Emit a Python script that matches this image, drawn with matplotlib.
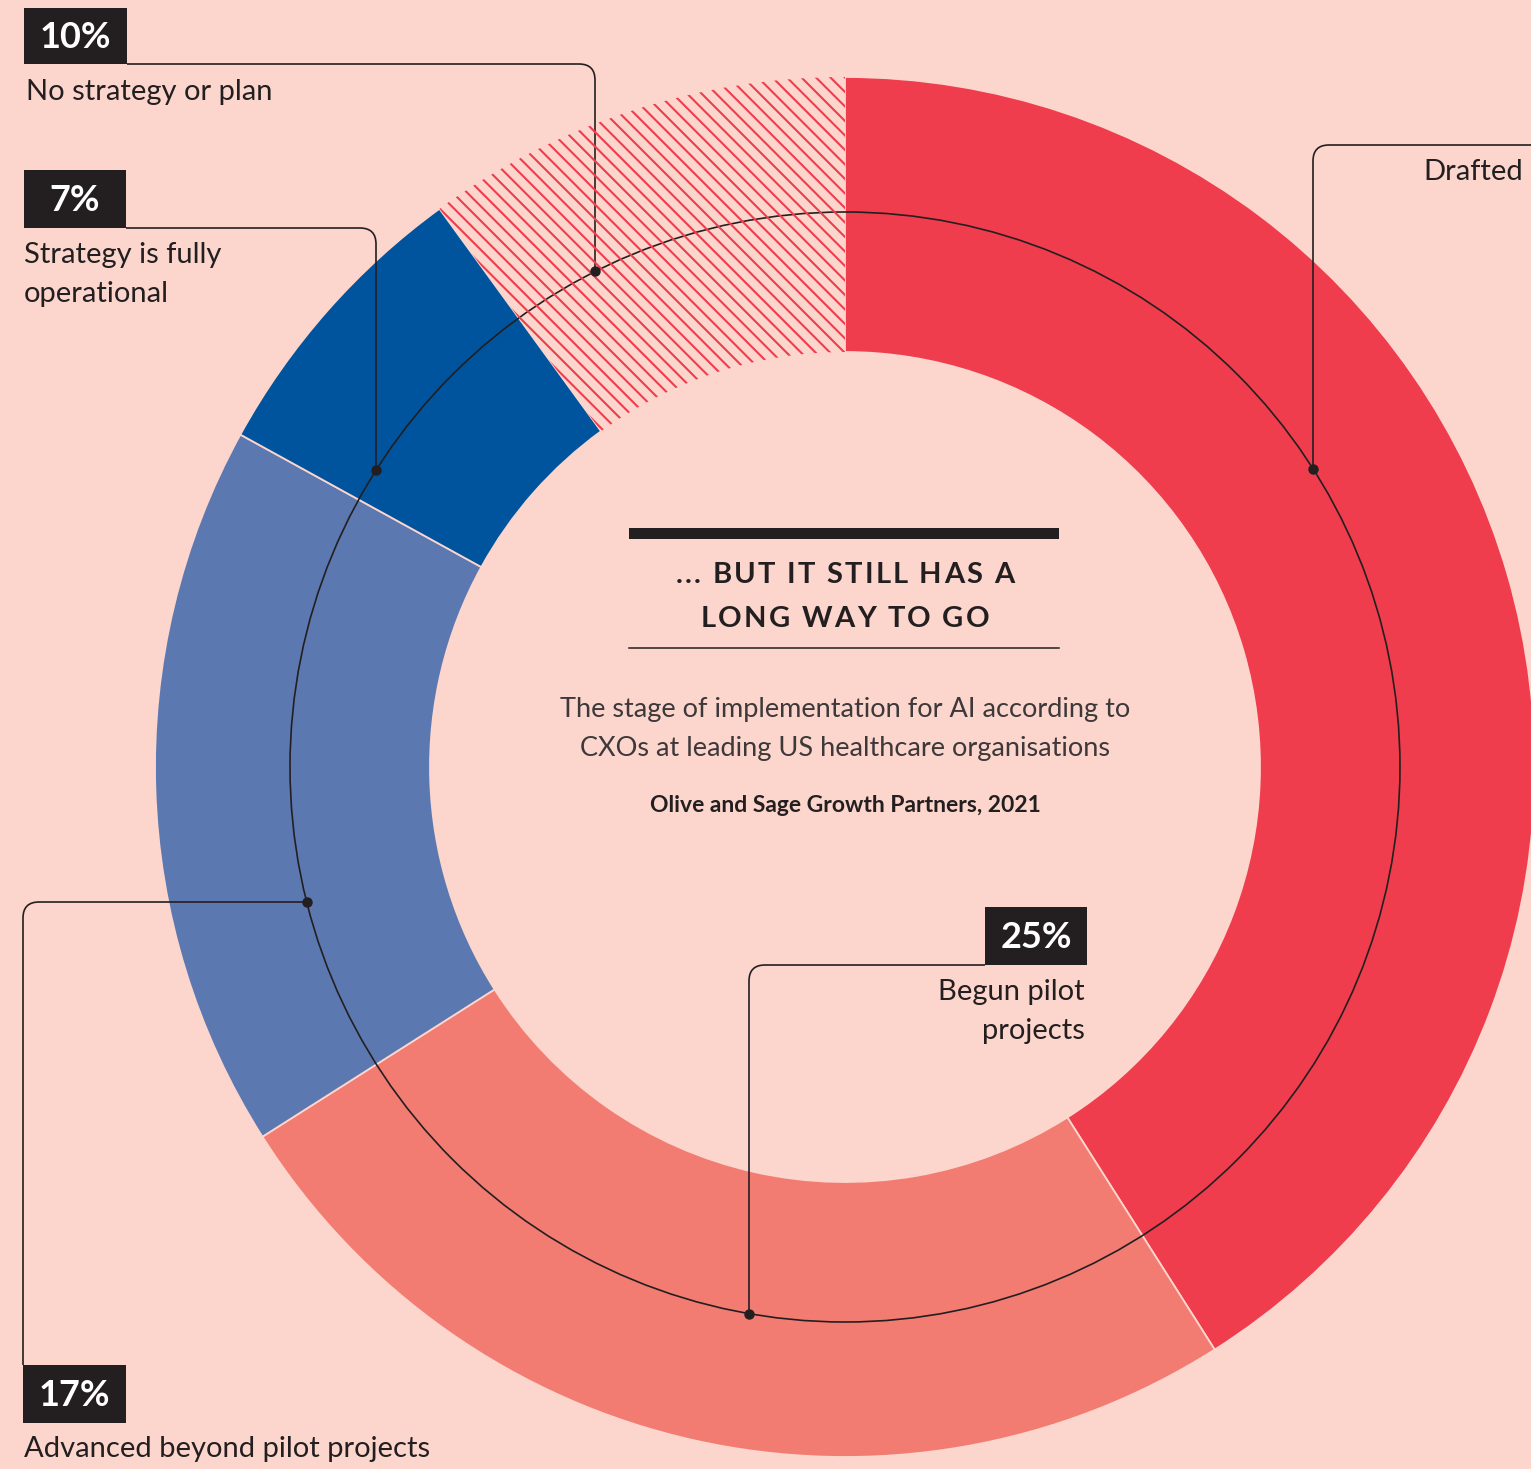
import numpy as np
import matplotlib.pyplot as plt
from matplotlib.patches import Rectangle, Circle, PathPatch
from matplotlib.path import Path
from matplotlib.collections import LineCollection

# data
stages = ["Drafted", "Begun pilot\nprojects", "Advanced beyond pilot projects",
          "Strategy is fully\noperational", "No strategy or plan"]
shares = [41, 25, 17, 7, 10]
colors = ["#EF3D4D", "#F37C72", "#5C78B1", "#00549E", "#FCD6CD"]

title = "... BUT IT STILL HAS A\nLONG WAY TO GO"
subtitle = "The stage of implementation for AI according to\nCXOs at leading US healthcare organisations"
source = "Olive and Sage Growth Partners, 2021"

bg = "#FCD6CD"
ink = "#231F20"
hatch_red = "#EF3D4D"
W, H = 1531, 1469
plt.rcParams['font.family'] = ['Lato', 'DejaVu Sans']

fig = plt.figure(figsize=(W / 100, H / 100), dpi=100)
fig.patch.set_facecolor(bg)
ax = fig.add_axes([0, 0, 1, 1])
ax.set_xlim(0, W)
ax.set_ylim(0, H)


def Y(y):
    # pixel row from top -> y-up coordinate
    return H - y


cx, cy = 845, Y(767)
r_out, r_in, r_mid = 690, 415, 555

wedges, _ = ax.pie(shares, colors=colors, startangle=90, counterclock=False,
                   radius=r_out, center=(cx, cy),
                   wedgeprops=dict(width=r_out - r_in, edgecolor=bg, linewidth=1.3))

# hatched wedge for "no strategy"
hw = wedges[-1]
hw.set_linewidth(0)
cs = np.arange(cx + cy - 1500, cx + cy + 1500, 14.5)
segs = [[(cx - 900, c - (cx - 900)), (cx + 900, c - (cx + 900))] for c in cs]
lc = LineCollection(segs, colors=hatch_red, linewidths=1.5)
ax.add_collection(lc)
lc.set_clip_path(hw)

# thin ring
ax.add_patch(Circle((cx, cy), r_mid, fill=False, ec=ink, lw=1.2))


def leader(pts, rad=16):
    pts = [np.array(p, float) for p in pts]
    verts, codes = [pts[0]], [Path.MOVETO]
    for i in range(1, len(pts) - 1):
        p0, p1, p2 = pts[i - 1], pts[i], pts[i + 1]
        d1 = (p1 - p0) / np.linalg.norm(p1 - p0)
        d2 = (p2 - p1) / np.linalg.norm(p2 - p1)
        verts += [p1 - d1 * rad, p1, p1 + d2 * rad]
        codes += [Path.LINETO, Path.CURVE3, Path.CURVE3]
    verts.append(pts[-1])
    codes.append(Path.LINETO)
    ax.add_patch(PathPatch(Path(verts, codes), fill=False, ec=ink, lw=1.2))


def ring_y(x, upper=True):
    dy = np.sqrt(r_mid ** 2 - (x - cx) ** 2)
    return cy + dy if upper else cy - dy


def ring_x(y, left=True):
    dx = np.sqrt(r_mid ** 2 - (y - cy) ** 2)
    return cx - dx if left else cx + dx


def pct_box(x0, y0, x1, y1, val):
    ax.add_patch(Rectangle((x0, Y(y1)), x1 - x0, y1 - y0, fc=ink, ec='none'))
    ax.text((x0 + x1) / 2, Y((y0 + y1) / 2) - 1, f"{val}%", color='white',
            fontsize=26, fontweight='bold', ha='center', va='center')


def label(x, y, txt, ha='left', step=39):
    for i, line in enumerate(txt.split("\n")):
        ax.text(x, Y(y + i * step), line, color=ink, fontsize=21,
                ha=ha, va='baseline')


def tracked(xc, y, s, track, **kw):
    # centred text with extra letter spacing
    r = fig.canvas.get_renderer()
    widths = []
    for ch in s:
        t = ax.text(0, 0, ch, **kw)
        widths.append(t.get_window_extent(r).width)
        t.remove()
    total = sum(widths) + track * (len(s) - 1)
    x = xc - total / 2
    for ch, w in zip(s, widths):
        ax.text(x, y, ch, ha='left', va='baseline', **kw)
        x += w + track


# No strategy or plan (10%)
pct_box(24, 8, 127, 64, shares[4])
label(26, 100, stages[4])
x = 595
leader([(127, Y(64)), (x, Y(64)), (x, ring_y(x))])
ax.plot(x, ring_y(x), 'o', color=ink, ms=6.5)

# Strategy fully operational (7%)
pct_box(24, 170, 126, 228, shares[3])
label(24, 263, stages[3])
x = 376
leader([(126, Y(228)), (x, Y(228)), (x, ring_y(x))])
ax.plot(x, ring_y(x), 'o', color=ink, ms=6.5)

# Drafted (41%) - its value box lies beyond the right edge of the crop
label(1523, 180, stages[0], ha='right')
x = 1313
leader([(1535, Y(145)), (x, Y(145)), (x, ring_y(x))])
ax.plot(x, ring_y(x), 'o', color=ink, ms=6.5)

# Begun pilot projects (25%)
pct_box(985, 907, 1087, 965, shares[1])
label(1085, 1000, stages[1], ha='right')
x = 749
leader([(985, Y(965)), (x, Y(965)), (x, ring_y(x, upper=False))])
ax.plot(x, ring_y(x, upper=False), 'o', color=ink, ms=6.5)

# Advanced beyond pilot projects (17%)
pct_box(23, 1365, 126, 1423, shares[2])
label(24, 1457, stages[2])
y = Y(902)
leader([(ring_x(y), y), (23, y), (23, Y(1365))])
ax.plot(ring_x(y), y, 'o', color=ink, ms=6.5)

# centre block
ax.add_patch(Rectangle((629, Y(539)), 430, 11, fc=ink, ec='none'))
for i, line in enumerate(title.split("\n")):
    tracked(cx, Y(583 + i * 44), line, 2.2, color=ink, fontsize=21,
            fontweight='bold')
ax.plot([629, 1059], [Y(648), Y(648)], color=ink, lw=1.1)
for i, line in enumerate(subtitle.split("\n")):
    ax.text(cx, Y(717 + i * 39), line, color='#3d3839', fontsize=19.5,
            ha='center', va='baseline')
ax.text(cx, Y(812), source, color=ink, fontsize=16.5, fontweight='bold',
        ha='center', va='baseline')

ax.set_xlim(0, W)
ax.set_ylim(0, H)
ax.set_aspect('equal')
ax.axis('off')
fig.savefig("out.png", dpi=100, facecolor=bg)
